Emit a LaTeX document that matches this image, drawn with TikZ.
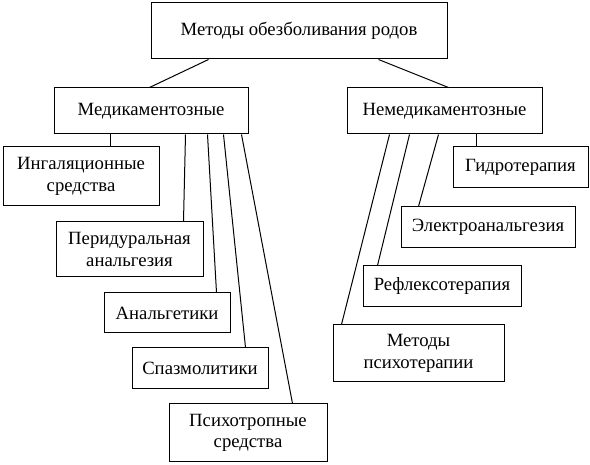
\documentclass[tikz,border=0pt]{standalone}
\usepackage{fontspec}
\setmainfont{Liberation Serif}
\usepackage{tikz}
\usetikzlibrary{calc}

\begin{document}
\begin{tikzpicture}[x=1pt, y=-1pt,
    box/.style={draw, line width=1pt, inner sep=0pt, align=center,
        font=\fontsize{18.7}{21.5}\selectfont},
    link/.style={line width=1pt}]
            \useasboundingbox (0,0) rectangle (590,465);

            % top level
            \node[box, minimum width=296pt, minimum height=56pt] (root) at (299,31) {Методы обезболивания родов};
            \node[box, minimum width=194pt, minimum height=46pt] (med) at (151,111) {Медикаментозные};
            \node[box, minimum width=195pt, minimum height=46pt] (nonmed) at (444.5,111) {Немедикаментозные};

            % left branch
            \node[box, minimum width=156pt, minimum height=59pt] (inhal) at (81,176.5) {Ингаляционные\\средства};
            \node[box, minimum width=147pt, minimum height=55pt] (epid) at (129.5,249.5) {Перидуральная\\анальгезия};
            \node[box, minimum width=126pt, minimum height=40pt] (analg) at (167,313) {Анальгетики};
            \node[box, minimum width=136pt, minimum height=41pt] (spasm) at (200,368.5) {Спазмолитики};
            \node[box, minimum width=158pt, minimum height=58pt] (psych) at (248,433) {Психотропные\\средства};

            % right branch
            \node[box, minimum width=135pt, minimum height=41pt] (hydro) at (520.5,167.5) {Гидротерапия};
            \node[box, minimum width=174pt, minimum height=41pt] (electro) at (488,227.5) {Электроанальгезия};
            \node[box, minimum width=158pt, minimum height=41pt] (reflex) at (442,286.5) {Рефлексотерапия};
            \node[box, minimum width=171pt, minimum height=57pt] (psyther) at (418.5,353.5) {Методы\\психотерапии};

            \draw[link] ($(root.south west)+(58,0)$) -- ($(med.north west)+(96,0)$);
            \draw[link] ($(root.south west)+(228,0)$) -- ($(nonmed.north west)+(102,0)$);

            \draw[link] ($(med.south west)+(57,0)$) -- ($(inhal.north west)+(108,0)$);
            \draw[link] ($(med.south west)+(132,0)$) -- ($(epid.north west)+(128,0)$);
            \draw[link] ($(med.south west)+(154,0)$) -- ($(analg.north west)+(113,0)$);
            \draw[link] ($(med.south west)+(170,0)$) -- ($(spasm.north west)+(114,0)$);
            \draw[link] ($(med.south west)+(188,0)$) -- ($(psych.north west)+(124,0)$);

            \draw[link] ($(nonmed.south west)+(130,0)$) -- ($(hydro.north west)+(24,0)$);
            \draw[link] ($(nonmed.south west)+(92,0)$) -- ($(electro.north west)+(18,0)$);
            \draw[link] ($(nonmed.south west)+(63,0)$) -- ($(reflex.north west)+(15,0)$);
            \draw[link] ($(nonmed.south west)+(43,0)$) -- ($(psyther.north west)+(9,0)$);
        \end{tikzpicture}
\end{document}
